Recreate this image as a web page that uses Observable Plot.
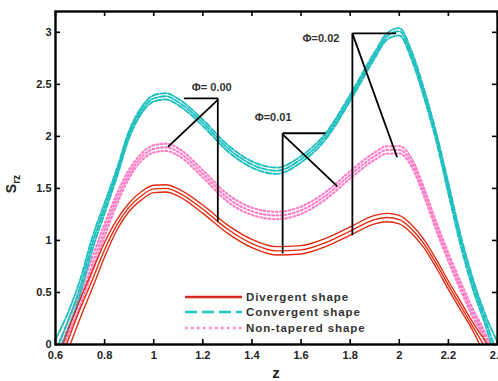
<!DOCTYPE html>
<html>
<head>
<meta charset="utf-8">
<script src="https://cdn.jsdelivr.net/npm/d3@7"></script>
<script src="https://cdn.jsdelivr.net/npm/@observablehq/plot@0.6"></script>
<style>
  html, body { margin: 0; padding: 0; background: #fff; overflow: hidden; }
  #wrap { position: relative; width: 498px; height: 381px; }
  #legend { position: absolute; left: 184px; top: 289px; font: bold 11.5px "Liberation Sans", Arial, sans-serif; color: #333; letter-spacing: 0.9px; }
  #legend .row { display: flex; align-items: center; height: 15.5px; }
  #legend svg { width: 62px; height: 8px; flex: none; }
</style>
</head>
<body>
<div id="wrap"></div>
<script>
// ---- data ----
const xTicks = [0.6, 0.8, 1, 1.2, 1.4, 1.6, 1.8, 2, 2.2, 2.4];
const yTicks = [0, 0.5, 1, 1.5, 2, 2.5, 3];

// Divergent shape (three Φ values), [z, S_rz]
const divergentA = [[0.63,0],[0.65,0.13],[0.7,0.43],[0.75,0.71],[0.8,0.98],[0.85,1.20],[0.9,1.36],[0.95,1.47],[1.0,1.53],[1.05,1.535],[1.1,1.495],[1.2,1.34],[1.3,1.15],[1.4,1.01],[1.5,0.94],[1.6,0.95],[1.7,1.02],[1.8,1.13],[1.9,1.24],[1.95,1.26],[2.0,1.24],[2.05,1.15],[2.1,1.01],[2.15,0.82],[2.2,0.61],[2.25,0.41],[2.3,0.21],[2.36,0]];
const divergentB = [[0.645,0],[0.7,0.34],[0.75,0.62],[0.8,0.91],[0.85,1.15],[0.9,1.32],[0.95,1.43],[1.0,1.495],[1.05,1.50],[1.1,1.46],[1.2,1.30],[1.3,1.11],[1.4,0.97],[1.5,0.90],[1.6,0.91],[1.7,0.98],[1.8,1.09],[1.9,1.20],[1.95,1.22],[2.0,1.20],[2.05,1.11],[2.1,0.97],[2.15,0.78],[2.2,0.57],[2.25,0.37],[2.3,0.17],[2.343,0]];
const divergentC = [[0.66,0],[0.7,0.25],[0.75,0.54],[0.8,0.84],[0.85,1.10],[0.9,1.28],[0.95,1.39],[1.0,1.46],[1.05,1.465],[1.1,1.425],[1.2,1.26],[1.3,1.07],[1.4,0.93],[1.5,0.86],[1.6,0.87],[1.7,0.94],[1.8,1.05],[1.9,1.16],[1.95,1.18],[2.0,1.16],[2.05,1.07],[2.1,0.93],[2.15,0.74],[2.2,0.53],[2.25,0.33],[2.3,0.13],[2.327,0]];

// Convergent shape
const convergentA = [[0.6,0.05],[0.65,0.30],[0.7,0.62],[0.75,1.03],[0.8,1.36],[0.85,1.69],[0.9,2.055],[0.95,2.28],[1.0,2.395],[1.05,2.415],[1.1,2.36],[1.2,2.16],[1.3,1.92],[1.4,1.76],[1.5,1.70],[1.6,1.81],[1.7,2.03],[1.8,2.40],[1.9,2.81],[1.95,2.99],[2.0,3.04],[2.05,2.82],[2.1,2.46],[2.15,2.04],[2.2,1.55],[2.25,1.05],[2.3,0.63],[2.35,0.29],[2.4,0.02]];
const convergentB = [[0.612,0],[0.65,0.22],[0.7,0.55],[0.75,0.97],[0.8,1.31],[0.85,1.65],[0.9,2.02],[0.95,2.25],[1.0,2.365],[1.05,2.385],[1.1,2.33],[1.2,2.13],[1.3,1.89],[1.4,1.73],[1.5,1.67],[1.6,1.78],[1.7,2.0],[1.8,2.37],[1.9,2.78],[1.95,2.96],[2.0,3.01],[2.05,2.78],[2.1,2.42],[2.15,2.0],[2.2,1.5],[2.25,1.0],[2.3,0.58],[2.35,0.24],[2.385,0]];
const convergentC = [[0.625,0],[0.65,0.14],[0.7,0.48],[0.75,0.91],[0.8,1.26],[0.85,1.61],[0.9,1.985],[0.95,2.22],[1.0,2.335],[1.05,2.355],[1.1,2.30],[1.2,2.10],[1.3,1.86],[1.4,1.70],[1.5,1.64],[1.6,1.75],[1.7,1.97],[1.8,2.34],[1.9,2.75],[1.95,2.93],[2.0,2.97],[2.05,2.74],[2.1,2.38],[2.15,1.96],[2.2,1.45],[2.25,0.95],[2.3,0.53],[2.35,0.19],[2.375,0]];

// Non-tapered shape
const nonTaperedA = [[0.612,0],[0.65,0.22],[0.7,0.51],[0.75,0.84],[0.8,1.16],[0.85,1.45],[0.9,1.68],[0.95,1.835],[1.0,1.915],[1.05,1.93],[1.1,1.885],[1.2,1.675],[1.3,1.445],[1.4,1.315],[1.5,1.275],[1.6,1.325],[1.7,1.465],[1.8,1.665],[1.9,1.845],[1.95,1.905],[2.0,1.905],[2.05,1.79],[2.1,1.51],[2.15,1.18],[2.2,0.88],[2.25,0.60],[2.3,0.34],[2.35,0.11],[2.37,0]];
const nonTaperedB = [[0.625,0],[0.65,0.15],[0.7,0.44],[0.75,0.77],[0.8,1.10],[0.85,1.40],[0.9,1.64],[0.95,1.80],[1.0,1.88],[1.05,1.895],[1.1,1.85],[1.2,1.64],[1.3,1.41],[1.4,1.28],[1.5,1.24],[1.6,1.29],[1.7,1.43],[1.8,1.63],[1.9,1.81],[1.95,1.87],[2.0,1.87],[2.05,1.75],[2.1,1.47],[2.15,1.14],[2.2,0.84],[2.25,0.56],[2.3,0.30],[2.35,0.07],[2.362,0]];
const nonTaperedC = [[0.638,0],[0.65,0.08],[0.7,0.37],[0.75,0.70],[0.8,1.04],[0.85,1.35],[0.9,1.60],[0.95,1.765],[1.0,1.845],[1.05,1.86],[1.1,1.815],[1.2,1.605],[1.3,1.375],[1.4,1.245],[1.5,1.205],[1.6,1.255],[1.7,1.395],[1.8,1.595],[1.9,1.775],[1.95,1.835],[2.0,1.835],[2.05,1.71],[2.1,1.43],[2.15,1.10],[2.2,0.80],[2.25,0.52],[2.3,0.26],[2.35,0.03],[2.354,0]];

// Annotation callouts (data units)
const annoSegments = [
  {x1:1.123, y1:2.365, x2:1.261, y2:2.365},
  {x1:1.261, y1:2.365, x2:1.261, y2:1.18},
  {x1:1.261, y1:2.35,  x2:1.058, y2:1.90},
  {x1:1.525, y1:2.03,  x2:1.70,  y2:2.03},
  {x1:1.525, y1:2.03,  x2:1.525, y2:0.875},
  {x1:1.525, y1:2.02,  x2:1.748, y2:1.52},
  {x1:1.809, y1:2.99,  x2:1.987, y2:2.99},
  {x1:1.809, y1:2.99,  x2:1.809, y2:1.05},
  {x1:1.809, y1:2.99,  x2:1.991, y2:1.80}
];
const annoLabels = [
  {x:1.155, y:2.47, text:"Φ= 0.00"},
  {x:1.411, y:2.18, text:"Φ=0.01"},
  {x:1.606, y:2.94, text:"Φ=0.02"}
];

const legendItems = [
  {label:"Divergent shape",   color:"#d42a1e", dash:null,  width:2.6},
  {label:"Convergent shape",  color:"#22c8c8", dash:"12 5", width:2.6},
  {label:"Non-tapered shape", color:"#ff80c8", dash:"2.5 3.5", width:2.6}
];

// ---- styles ----
const RED = "#e2280e", CYAN = "#1fbfbf", PINK = "#ff7fc6";
const W = 498, H = 381, ML = 55, MR = 1, MT = 11, MB = 37;
const innerW = W - ML - MR, innerH = H - MT - MB, TICK = 5;

const lineOpts = (stroke, extra) => Object.assign({x: d => d[0], y: d => d[1], stroke, curve: "monotone-x", clip: true}, extra);
const divOpts = lineOpts(RED, {strokeWidth: 1.35});
const convOpts = lineOpts(CYAN, {strokeWidth: 1.9, strokeDasharray: "6 2"});
const ntOpts = lineOpts(PINK, {strokeWidth: 2.2, strokeDasharray: "1.6 2.6"});

const chart = Plot.plot({
  width: W, height: H,
  marginLeft: ML, marginRight: MR, marginTop: MT, marginBottom: MB,
  style: {fontFamily: "'Liberation Sans', Arial, sans-serif", background: "#fff", overflow: "visible"},
  x: {domain: [0.6, 2.4]},
  y: {domain: [0, 3.2]},
  marks: [
    Plot.line(nonTaperedA, ntOpts),
    Plot.line(nonTaperedB, ntOpts),
    Plot.line(nonTaperedC, ntOpts),
    Plot.line(convergentA, convOpts),
    Plot.line(convergentB, convOpts),
    Plot.line(convergentC, convOpts),
    Plot.line(divergentA, divOpts),
    Plot.line(divergentB, divOpts),
    Plot.line(divergentC, divOpts),
    Plot.link(annoSegments, {x1: "x1", y1: "y1", x2: "x2", y2: "y2", stroke: "#000", strokeWidth: 1.8}),
    Plot.text(annoLabels, {x: "x", y: "y", text: "text", textAnchor: "start", fontWeight: "bold", fontSize: 11, fill: "#333"}),
    // inward ticks on all four sides
    Plot.ruleY(yTicks, {y: d => d, insetRight: innerW - TICK, stroke: "#000", strokeWidth: 1.6}),
    Plot.ruleY(yTicks, {y: d => d, insetLeft: innerW - TICK, stroke: "#000", strokeWidth: 1.6}),
    Plot.ruleX(xTicks, {x: d => d, insetTop: innerH - TICK, stroke: "#000", strokeWidth: 1.6}),
    Plot.ruleX(xTicks, {x: d => d, insetBottom: innerH - TICK, stroke: "#000", strokeWidth: 1.6}),
    Plot.axisX(xTicks, {tickSize: 0, tickPadding: 7, tickFormat: d => String(d), fontWeight: "bold", fontSize: 11, fill: "#222", label: null}),
    Plot.axisY(yTicks, {tickSize: 0, tickPadding: 4, tickFormat: d => String(d), fontWeight: "bold", fontSize: 11, fill: "#222", label: null}),
    Plot.frame({stroke: "#000", strokeWidth: 2.4})
  ]
});

// axis titles
const svg = d3.select(chart);
svg.append("text")
  .attr("x", ML + innerW / 2).attr("y", 378)
  .attr("text-anchor", "middle")
  .attr("font-family", "'Liberation Sans', Arial, sans-serif")
  .attr("font-weight", "bold").attr("font-size", 15).attr("fill", "#222")
  .text("z");
const yl = svg.append("text")
  .attr("transform", "translate(16,184) rotate(-90)")
  .attr("font-family", "'Liberation Sans', Arial, sans-serif")
  .attr("font-weight", "bold").attr("font-size", 14).attr("fill", "#222");
yl.append("tspan").text("S");
yl.append("tspan").attr("font-size", 10).attr("dy", 4).text("rz");

const wrap = document.getElementById("wrap");
wrap.appendChild(chart);

// legend (inside the plot area, lower middle)
const legend = document.createElement("div");
legend.id = "legend";
for (const item of legendItems) {
  const row = document.createElement("div");
  row.className = "row";
  row.innerHTML = `<svg viewBox="0 0 62 8"><line x1="1" x2="58" y1="4" y2="4" stroke="${item.color}" stroke-width="${item.width}" ${item.dash ? `stroke-dasharray="${item.dash}"` : ""}/></svg><span>${item.label}</span>`;
  legend.appendChild(row);
}
wrap.appendChild(legend);
</script>
</body>
</html>
